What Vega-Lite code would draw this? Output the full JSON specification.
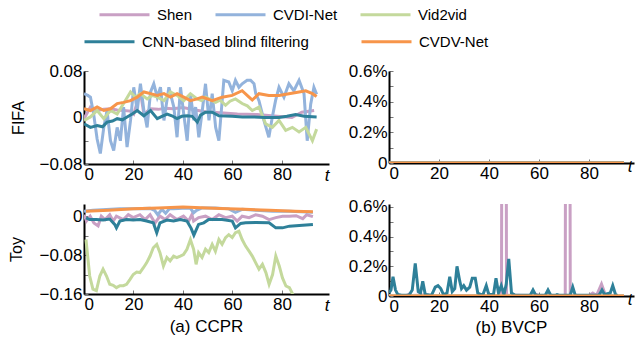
{
  "$schema": "https://vega.github.io/schema/vega-lite/v6.json",
  "padding": {"left": 8, "top": 7, "right": 1, "bottom": 2},
  "config": {
    "font": "Liberation Sans",
    "view": {"stroke": null},
    "axis": {
      "domainColor": "black", "domainWidth": 2, "labelFontSize": 17, "labelColor": "black",
      "tickColor": "#777", "tickSize": -4, "labelPadding": 6, "grid": false,
      "titleFontWeight": "normal", "titleColor": "black", "titleFontSize": 16
    },
    "legend": {
      "orient": "none", "direction": "horizontal",
      "symbolType": "M-5,0H5", "symbolSize": 100, "symbolStrokeWidth": 3, "labelLimit": 400,
      "labelOffset": 25, "labelFontSize": 15, "labelColor": "black", "title": null
    },
    "title": {"fontSize": 17, "fontWeight": "normal", "color": "black"}
  },
  "datasets": {
    "fifa_ccpr": [
      {"m":"Shen","t":0,"v":-0.002},{"m":"Shen","t":2.6,"v":0.018},{"m":"Shen","t":5.3,"v":0.012},{"m":"Shen","t":8,"v":0.014},{"m":"Shen","t":10.7,"v":0.015},{"m":"Shen","t":13.4,"v":0.013},{"m":"Shen","t":16,"v":0.012},{"m":"Shen","t":18.8,"v":0.011},{"m":"Shen","t":20.1,"v":0.006},{"m":"Shen","t":22.8,"v":0.044},{"m":"Shen","t":24.2,"v":0.006},{"m":"Shen","t":26.9,"v":0.015},{"m":"Shen","t":30,"v":0.014},{"m":"Shen","t":33,"v":0.016},{"m":"Shen","t":36,"v":0.015},{"m":"Shen","t":40,"v":0.017},{"m":"Shen","t":45,"v":0.013},{"m":"Shen","t":49,"v":0.01},{"m":"Shen","t":55,"v":0.008},{"m":"Shen","t":62,"v":0.006},{"m":"Shen","t":70,"v":0.005},{"m":"Shen","t":78,"v":0.002},{"m":"Shen","t":84,"v":0.0},{"m":"Shen","t":88,"v":0.009},{"m":"Shen","t":93,"v":0.012},
      {"m":"CVDI-Net","t":0,"v":0.041},{"m":"CVDI-Net","t":1.5,"v":0.038},{"m":"CVDI-Net","t":2.6,"v":0.035},{"m":"CVDI-Net","t":3.9,"v":0.006},{"m":"CVDI-Net","t":5.3,"v":-0.037},{"m":"CVDI-Net","t":6.6,"v":-0.062},{"m":"CVDI-Net","t":8,"v":-0.017},{"m":"CVDI-Net","t":9.3,"v":0.012},{"m":"CVDI-Net","t":10.7,"v":-0.04},{"m":"CVDI-Net","t":12,"v":-0.057},{"m":"CVDI-Net","t":13.4,"v":-0.017},{"m":"CVDI-Net","t":14.7,"v":-0.04},{"m":"CVDI-Net","t":16,"v":0.018},{"m":"CVDI-Net","t":17.4,"v":-0.051},{"m":"CVDI-Net","t":18.8,"v":-0.005},{"m":"CVDI-Net","t":20.1,"v":0.052},{"m":"CVDI-Net","t":21.5,"v":0.012},{"m":"CVDI-Net","t":22.8,"v":0.058},{"m":"CVDI-Net","t":24.2,"v":0.012},{"m":"CVDI-Net","t":25.5,"v":-0.017},{"m":"CVDI-Net","t":26.9,"v":0.044},{"m":"CVDI-Net","t":28.2,"v":0.058},{"m":"CVDI-Net","t":29.6,"v":0.035},{"m":"CVDI-Net","t":30.9,"v":0.052},{"m":"CVDI-Net","t":32.3,"v":-0.005},{"m":"CVDI-Net","t":34.3,"v":0.052},{"m":"CVDI-Net","t":36.3,"v":0.018},{"m":"CVDI-Net","t":37.6,"v":-0.034},{"m":"CVDI-Net","t":39,"v":0.052},{"m":"CVDI-Net","t":40.3,"v":0.006},{"m":"CVDI-Net","t":41.7,"v":-0.04},{"m":"CVDI-Net","t":43,"v":0.041},{"m":"CVDI-Net","t":44.4,"v":-0.005},{"m":"CVDI-Net","t":45.1,"v":0.018},{"m":"CVDI-Net","t":46.4,"v":-0.034},{"m":"CVDI-Net","t":47.8,"v":0.012},{"m":"CVDI-Net","t":49.1,"v":0.058},{"m":"CVDI-Net","t":50.5,"v":-0.005},{"m":"CVDI-Net","t":51.8,"v":0.041},{"m":"CVDI-Net","t":53.2,"v":-0.017},{"m":"CVDI-Net","t":54.5,"v":-0.04},{"m":"CVDI-Net","t":56.5,"v":0.064},{"m":"CVDI-Net","t":58.5,"v":0.061},{"m":"CVDI-Net","t":59.9,"v":0.046},{"m":"CVDI-Net","t":61.2,"v":0.064},{"m":"CVDI-Net","t":62.6,"v":0.052},{"m":"CVDI-Net","t":63.9,"v":0.058},{"m":"CVDI-Net","t":65.9,"v":0.064},{"m":"CVDI-Net","t":67.3,"v":0.064},{"m":"CVDI-Net","t":68.7,"v":0.058},{"m":"CVDI-Net","t":69.4,"v":0.041},{"m":"CVDI-Net","t":70.7,"v":0.029},{"m":"CVDI-Net","t":72.7,"v":-0.005},{"m":"CVDI-Net","t":74.7,"v":-0.034},{"m":"CVDI-Net","t":76.1,"v":0.001},{"m":"CVDI-Net","t":77.4,"v":0.029},{"m":"CVDI-Net","t":78.8,"v":0.052},{"m":"CVDI-Net","t":80.8,"v":0.035},{"m":"CVDI-Net","t":82.8,"v":0.058},{"m":"CVDI-Net","t":84.8,"v":0.046},{"m":"CVDI-Net","t":86.9,"v":0.064},{"m":"CVDI-Net","t":88.9,"v":0.041},{"m":"CVDI-Net","t":90.2,"v":-0.04},{"m":"CVDI-Net","t":91.6,"v":0.023},{"m":"CVDI-Net","t":92.9,"v":0.052},{"m":"CVDI-Net","t":94,"v":0.04},
      {"m":"Vid2vid","t":0,"v":-0.005},{"m":"Vid2vid","t":2.6,"v":0.001},{"m":"Vid2vid","t":5.3,"v":0.012},{"m":"Vid2vid","t":8,"v":-0.002},{"m":"Vid2vid","t":10.7,"v":0.012},{"m":"Vid2vid","t":13.4,"v":0.006},{"m":"Vid2vid","t":16,"v":0.024},{"m":"Vid2vid","t":18.8,"v":0.044},{"m":"Vid2vid","t":20.8,"v":0.035},{"m":"Vid2vid","t":22.8,"v":0.041},{"m":"Vid2vid","t":25.5,"v":0.032},{"m":"Vid2vid","t":27.5,"v":0.038},{"m":"Vid2vid","t":29.6,"v":0.035},{"m":"Vid2vid","t":32.3,"v":0.029},{"m":"Vid2vid","t":34.9,"v":0.044},{"m":"Vid2vid","t":37.6,"v":0.038},{"m":"Vid2vid","t":40.3,"v":0.029},{"m":"Vid2vid","t":43,"v":0.041},{"m":"Vid2vid","t":45.7,"v":0.032},{"m":"Vid2vid","t":47.5,"v":0.029},{"m":"Vid2vid","t":49.1,"v":0.035},{"m":"Vid2vid","t":51.8,"v":0.029},{"m":"Vid2vid","t":53.2,"v":0.026},{"m":"Vid2vid","t":55,"v":0.03},{"m":"Vid2vid","t":57.2,"v":0.021},{"m":"Vid2vid","t":59,"v":0.028},{"m":"Vid2vid","t":61.2,"v":0.032},{"m":"Vid2vid","t":63.9,"v":0.024},{"m":"Vid2vid","t":66,"v":0.02},{"m":"Vid2vid","t":68,"v":0.012},{"m":"Vid2vid","t":70.7,"v":0.018},{"m":"Vid2vid","t":73.4,"v":-0.011},{"m":"Vid2vid","t":76.1,"v":-0.017},{"m":"Vid2vid","t":78.8,"v":-0.005},{"m":"Vid2vid","t":81.5,"v":-0.022},{"m":"Vid2vid","t":84.2,"v":-0.017},{"m":"Vid2vid","t":86.9,"v":-0.025},{"m":"Vid2vid","t":89.6,"v":-0.017},{"m":"Vid2vid","t":92.3,"v":-0.04},{"m":"Vid2vid","t":94,"v":-0.02},
      {"m":"CNN-based blind filtering","t":0,"v":-0.011},{"m":"CNN-based blind filtering","t":2.6,"v":-0.017},{"m":"CNN-based blind filtering","t":5.3,"v":-0.014},{"m":"CNN-based blind filtering","t":7.5,"v":-0.016},{"m":"CNN-based blind filtering","t":9.3,"v":-0.008},{"m":"CNN-based blind filtering","t":11.5,"v":-0.006},{"m":"CNN-based blind filtering","t":13.4,"v":-0.002},{"m":"CNN-based blind filtering","t":15.5,"v":-0.004},{"m":"CNN-based blind filtering","t":17.4,"v":0.001},{"m":"CNN-based blind filtering","t":19.5,"v":0.006},{"m":"CNN-based blind filtering","t":21.5,"v":0.012},{"m":"CNN-based blind filtering","t":24.2,"v":0.003},{"m":"CNN-based blind filtering","t":26.9,"v":0.012},{"m":"CNN-based blind filtering","t":29.6,"v":-0.002},{"m":"CNN-based blind filtering","t":31.5,"v":0.002},{"m":"CNN-based blind filtering","t":33.6,"v":0.006},{"m":"CNN-based blind filtering","t":35.5,"v":0.003},{"m":"CNN-based blind filtering","t":37.6,"v":-0.002},{"m":"CNN-based blind filtering","t":39.5,"v":0.002},{"m":"CNN-based blind filtering","t":41.7,"v":0.003},{"m":"CNN-based blind filtering","t":43.7,"v":0.002},{"m":"CNN-based blind filtering","t":45.8,"v":-0.008},{"m":"CNN-based blind filtering","t":47.1,"v":0.004},{"m":"CNN-based blind filtering","t":49.1,"v":0.009},{"m":"CNN-based blind filtering","t":51.8,"v":0.009},{"m":"CNN-based blind filtering","t":54.5,"v":0.003},{"m":"CNN-based blind filtering","t":59.9,"v":0.002},{"m":"CNN-based blind filtering","t":64,"v":0.001},{"m":"CNN-based blind filtering","t":68,"v":0.001},{"m":"CNN-based blind filtering","t":73,"v":0.0},{"m":"CNN-based blind filtering","t":78.8,"v":0.0},{"m":"CNN-based blind filtering","t":82,"v":0.002},{"m":"CNN-based blind filtering","t":85.5,"v":0.005},{"m":"CNN-based blind filtering","t":89,"v":0.002},{"m":"CNN-based blind filtering","t":94,"v":0.001},
      {"m":"CVDV-Net","t":0,"v":0.015},{"m":"CVDV-Net","t":2.6,"v":0.012},{"m":"CVDV-Net","t":5.3,"v":0.018},{"m":"CVDV-Net","t":8,"v":0.012},{"m":"CVDV-Net","t":10.7,"v":0.015},{"m":"CVDV-Net","t":13.4,"v":0.024},{"m":"CVDV-Net","t":16,"v":0.026},{"m":"CVDV-Net","t":18.8,"v":0.029},{"m":"CVDV-Net","t":21.5,"v":0.035},{"m":"CVDV-Net","t":24.2,"v":0.044},{"m":"CVDV-Net","t":26.9,"v":0.041},{"m":"CVDV-Net","t":29.6,"v":0.038},{"m":"CVDV-Net","t":32.3,"v":0.041},{"m":"CVDV-Net","t":34.9,"v":0.035},{"m":"CVDV-Net","t":37.6,"v":0.041},{"m":"CVDV-Net","t":40.3,"v":0.035},{"m":"CVDV-Net","t":43,"v":0.029},{"m":"CVDV-Net","t":45.7,"v":0.032},{"m":"CVDV-Net","t":47.8,"v":0.035},{"m":"CVDV-Net","t":51.8,"v":0.029},{"m":"CVDV-Net","t":55.8,"v":0.035},{"m":"CVDV-Net","t":59.9,"v":0.038},{"m":"CVDV-Net","t":63.9,"v":0.046},{"m":"CVDV-Net","t":66.7,"v":0.035},{"m":"CVDV-Net","t":68,"v":0.03},{"m":"CVDV-Net","t":70.7,"v":0.041},{"m":"CVDV-Net","t":74.7,"v":0.038},{"m":"CVDV-Net","t":78.8,"v":0.038},{"m":"CVDV-Net","t":82.8,"v":0.041},{"m":"CVDV-Net","t":86.9,"v":0.044},{"m":"CVDV-Net","t":89.6,"v":0.046},{"m":"CVDV-Net","t":92.3,"v":0.041},{"m":"CVDV-Net","t":94,"v":0.036}
    ],
    "fifa_bvcp": [
      {"m":"Shen","t":0,"v":0},{"m":"Shen","t":47,"v":0},{"m":"Shen","t":94,"v":0},
      {"m":"CVDI-Net","t":0,"v":0},{"m":"CVDI-Net","t":47,"v":0},{"m":"CVDI-Net","t":94,"v":0},
      {"m":"Vid2vid","t":0,"v":0},{"m":"Vid2vid","t":47,"v":0},{"m":"Vid2vid","t":94,"v":0},
      {"m":"CNN-based blind filtering","t":0,"v":0},{"m":"CNN-based blind filtering","t":47,"v":0},{"m":"CNN-based blind filtering","t":94,"v":0},
      {"m":"CVDV-Net","t":0,"v":0},{"m":"CVDV-Net","t":47,"v":0},{"m":"CVDV-Net","t":94,"v":0}
    ],
    "toy_ccpr": [
      {"m":"Shen","t":0,"v":0.003},{"m":"Shen","t":1,"v":-0.01},{"m":"Shen","t":2.5,"v":0.0},{"m":"Shen","t":4,"v":-0.014},{"m":"Shen","t":5.7,"v":-0.02},{"m":"Shen","t":7,"v":0.0},{"m":"Shen","t":8.5,"v":-0.007},{"m":"Shen","t":10.4,"v":0.003},{"m":"Shen","t":11.8,"v":-0.01},{"m":"Shen","t":13.1,"v":0.0},{"m":"Shen","t":15.9,"v":-0.007},{"m":"Shen","t":17.9,"v":0.003},{"m":"Shen","t":19.9,"v":-0.003},{"m":"Shen","t":22.6,"v":0.003},{"m":"Shen","t":24.7,"v":-0.007},{"m":"Shen","t":26.7,"v":0.003},{"m":"Shen","t":28.7,"v":-0.014},{"m":"Shen","t":30.7,"v":0.0},{"m":"Shen","t":32.8,"v":-0.007},{"m":"Shen","t":34.8,"v":0.003},{"m":"Shen","t":37.5,"v":-0.007},{"m":"Shen","t":40.2,"v":0.0},{"m":"Shen","t":42.3,"v":-0.01},{"m":"Shen","t":43.6,"v":0.003},{"m":"Shen","t":44.3,"v":-0.01},{"m":"Shen","t":46.3,"v":-0.003},{"m":"Shen","t":49.1,"v":0.0},{"m":"Shen","t":51.8,"v":-0.007},{"m":"Shen","t":54.5,"v":0.003},{"m":"Shen","t":57.2,"v":-0.003},{"m":"Shen","t":59.9,"v":0.0},{"m":"Shen","t":61.9,"v":-0.01},{"m":"Shen","t":63.9,"v":0.0},{"m":"Shen","t":66.7,"v":-0.003},{"m":"Shen","t":69.4,"v":0.003},{"m":"Shen","t":72.1,"v":0.0},{"m":"Shen","t":74.8,"v":-0.007},{"m":"Shen","t":77.5,"v":-0.003},{"m":"Shen","t":80.2,"v":0.0},{"m":"Shen","t":83,"v":0.0},{"m":"Shen","t":85.7,"v":0.001},{"m":"Shen","t":88.4,"v":-0.005},{"m":"Shen","t":90,"v":0.003},{"m":"Shen","t":92.5,"v":-0.001},
      {"m":"CVDI-Net","t":0,"v":0.01},{"m":"CVDI-Net","t":3.6,"v":0.012},{"m":"CVDI-Net","t":9.1,"v":0.0137},{"m":"CVDI-Net","t":14.5,"v":0.015},{"m":"CVDI-Net","t":19.9,"v":0.015},{"m":"CVDI-Net","t":26.7,"v":0.016},{"m":"CVDI-Net","t":28.5,"v":0.012},{"m":"CVDI-Net","t":29.8,"v":0.003},{"m":"CVDI-Net","t":31.5,"v":0.014},{"m":"CVDI-Net","t":33,"v":0.006},{"m":"CVDI-Net","t":34.5,"v":0.015},{"m":"CVDI-Net","t":36.2,"v":0.015},{"m":"CVDI-Net","t":41.6,"v":0.017},{"m":"CVDI-Net","t":43,"v":0.016},{"m":"CVDI-Net","t":44.3,"v":0.007},{"m":"CVDI-Net","t":45.5,"v":0.012},{"m":"CVDI-Net","t":47.7,"v":0.017},{"m":"CVDI-Net","t":53.1,"v":0.017},{"m":"CVDI-Net","t":58.5,"v":0.015},{"m":"CVDI-Net","t":61.2,"v":0.008},{"m":"CVDI-Net","t":63.9,"v":0.014},{"m":"CVDI-Net","t":69.4,"v":0.012},{"m":"CVDI-Net","t":76.2,"v":0.01},{"m":"CVDI-Net","t":83,"v":0.01},{"m":"CVDI-Net","t":92.5,"v":0.008},
      {"m":"Vid2vid","t":0.8,"v":-0.048},{"m":"Vid2vid","t":2.3,"v":-0.123},{"m":"Vid2vid","t":3.6,"v":-0.15},{"m":"Vid2vid","t":5,"v":-0.153},{"m":"Vid2vid","t":6.4,"v":-0.123},{"m":"Vid2vid","t":7.7,"v":-0.109},{"m":"Vid2vid","t":9.1,"v":-0.123},{"m":"Vid2vid","t":10.4,"v":-0.14},{"m":"Vid2vid","t":11.8,"v":-0.142},{"m":"Vid2vid","t":13.1,"v":-0.147},{"m":"Vid2vid","t":14.5,"v":-0.143},{"m":"Vid2vid","t":15.9,"v":-0.143},{"m":"Vid2vid","t":17.2,"v":-0.14},{"m":"Vid2vid","t":18.6,"v":-0.13},{"m":"Vid2vid","t":19.9,"v":-0.12},{"m":"Vid2vid","t":21.3,"v":-0.115},{"m":"Vid2vid","t":22.6,"v":-0.116},{"m":"Vid2vid","t":24,"v":-0.106},{"m":"Vid2vid","t":25.3,"v":-0.096},{"m":"Vid2vid","t":26.7,"v":-0.082},{"m":"Vid2vid","t":28,"v":-0.065},{"m":"Vid2vid","t":29.4,"v":-0.058},{"m":"Vid2vid","t":30.7,"v":-0.075},{"m":"Vid2vid","t":32.1,"v":-0.1025},{"m":"Vid2vid","t":33.5,"v":-0.085},{"m":"Vid2vid","t":34.8,"v":-0.092},{"m":"Vid2vid","t":36.2,"v":-0.082},{"m":"Vid2vid","t":37.5,"v":-0.085},{"m":"Vid2vid","t":38.9,"v":-0.082},{"m":"Vid2vid","t":40.2,"v":-0.079},{"m":"Vid2vid","t":41.6,"v":-0.068},{"m":"Vid2vid","t":43,"v":-0.048},{"m":"Vid2vid","t":44.3,"v":-0.068},{"m":"Vid2vid","t":45.3,"v":-0.099},{"m":"Vid2vid","t":46.3,"v":-0.075},{"m":"Vid2vid","t":47.7,"v":-0.085},{"m":"Vid2vid","t":49.1,"v":-0.068},{"m":"Vid2vid","t":50.4,"v":-0.075},{"m":"Vid2vid","t":51.8,"v":-0.058},{"m":"Vid2vid","t":53.1,"v":-0.072},{"m":"Vid2vid","t":54.5,"v":-0.048},{"m":"Vid2vid","t":55.8,"v":-0.058},{"m":"Vid2vid","t":57.2,"v":-0.044},{"m":"Vid2vid","t":58.5,"v":-0.038},{"m":"Vid2vid","t":59.9,"v":-0.044},{"m":"Vid2vid","t":61.2,"v":-0.034},{"m":"Vid2vid","t":62.6,"v":-0.031},{"m":"Vid2vid","t":63.9,"v":-0.048},{"m":"Vid2vid","t":65.3,"v":-0.0615},{"m":"Vid2vid","t":66.7,"v":-0.072},{"m":"Vid2vid","t":68,"v":-0.082},{"m":"Vid2vid","t":69.4,"v":-0.096},{"m":"Vid2vid","t":70.7,"v":-0.109},{"m":"Vid2vid","t":72.1,"v":-0.099},{"m":"Vid2vid","t":73.5,"v":-0.116},{"m":"Vid2vid","t":74.8,"v":-0.14},{"m":"Vid2vid","t":76.2,"v":-0.12},{"m":"Vid2vid","t":77.5,"v":-0.082},{"m":"Vid2vid","t":78.9,"v":-0.1025},{"m":"Vid2vid","t":80.2,"v":-0.127},{"m":"Vid2vid","t":81.6,"v":-0.1435},{"m":"Vid2vid","t":83,"v":-0.147},{"m":"Vid2vid","t":84.3,"v":-0.16},{"m":"Vid2vid","t":85.7,"v":-0.17},
      {"m":"CNN-based blind filtering","t":0.8,"v":-0.0034},{"m":"CNN-based blind filtering","t":2.3,"v":-0.007},{"m":"CNN-based blind filtering","t":5,"v":-0.007},{"m":"CNN-based blind filtering","t":7.7,"v":-0.008},{"m":"CNN-based blind filtering","t":10.4,"v":-0.006},{"m":"CNN-based blind filtering","t":12.4,"v":-0.017},{"m":"CNN-based blind filtering","t":13.1,"v":-0.024},{"m":"CNN-based blind filtering","t":14.5,"v":-0.01},{"m":"CNN-based blind filtering","t":17.2,"v":-0.007},{"m":"CNN-based blind filtering","t":19.9,"v":-0.008},{"m":"CNN-based blind filtering","t":22.6,"v":-0.007},{"m":"CNN-based blind filtering","t":25.3,"v":-0.01},{"m":"CNN-based blind filtering","t":28,"v":-0.0137},{"m":"CNN-based blind filtering","t":29.4,"v":-0.034},{"m":"CNN-based blind filtering","t":30.7,"v":-0.0137},{"m":"CNN-based blind filtering","t":33.5,"v":-0.008},{"m":"CNN-based blind filtering","t":36.2,"v":-0.01},{"m":"CNN-based blind filtering","t":38.9,"v":-0.007},{"m":"CNN-based blind filtering","t":41.6,"v":-0.01},{"m":"CNN-based blind filtering","t":43.3,"v":-0.025},{"m":"CNN-based blind filtering","t":44.4,"v":-0.039},{"m":"CNN-based blind filtering","t":46.3,"v":-0.017},{"m":"CNN-based blind filtering","t":48.4,"v":-0.0137},{"m":"CNN-based blind filtering","t":50.4,"v":-0.007},{"m":"CNN-based blind filtering","t":55.8,"v":-0.007},{"m":"CNN-based blind filtering","t":59.9,"v":-0.01},{"m":"CNN-based blind filtering","t":61.2,"v":-0.024},{"m":"CNN-based blind filtering","t":63.3,"v":-0.015},{"m":"CNN-based blind filtering","t":65.3,"v":-0.0137},{"m":"CNN-based blind filtering","t":69.4,"v":-0.013},{"m":"CNN-based blind filtering","t":74.8,"v":-0.0137},{"m":"CNN-based blind filtering","t":77.5,"v":-0.024},{"m":"CNN-based blind filtering","t":80.2,"v":-0.024},{"m":"CNN-based blind filtering","t":83,"v":-0.0205},{"m":"CNN-based blind filtering","t":87,"v":-0.019},{"m":"CNN-based blind filtering","t":92.5,"v":-0.017},
      {"m":"CVDV-Net","t":0.8,"v":0.01},{"m":"CVDV-Net","t":10,"v":0.012},{"m":"CVDV-Net","t":20,"v":0.015},{"m":"CVDV-Net","t":30,"v":0.017},{"m":"CVDV-Net","t":40,"v":0.019},{"m":"CVDV-Net","t":45,"v":0.018},{"m":"CVDV-Net","t":55,"v":0.016},{"m":"CVDV-Net","t":65,"v":0.014},{"m":"CVDV-Net","t":75,"v":0.012},{"m":"CVDV-Net","t":85,"v":0.01},{"m":"CVDV-Net","t":92.5,"v":0.009}
    ],
    "toy_bvcp": [
      {"m":"Shen","t":0,"v":0.00003},{"m":"Shen","t":7,"v":0.00003},{"m":"Shen","t":8,"v":0.00012},{"m":"Shen","t":9,"v":0.00003},{"m":"Shen","t":15,"v":0.00008},{"m":"Shen","t":16,"v":0.00003},{"m":"Shen","t":45,"v":0.00005},{"m":"Shen","t":46,"v":0.1},{"m":"Shen","t":47,"v":0.00005},{"m":"Shen","t":58,"v":0.00003},{"m":"Shen","t":59,"v":0.0001},{"m":"Shen","t":60,"v":0.00003},{"m":"Shen","t":70.5,"v":0.00005},{"m":"Shen","t":71.5,"v":0.1},{"m":"Shen","t":72.5,"v":0.00005},{"m":"Shen","t":80,"v":0.00003},{"m":"Shen","t":81.5,"v":0.0002},{"m":"Shen","t":83,"v":0.00003},{"m":"Shen","t":85,"v":0.0008},{"m":"Shen","t":86.5,"v":0.0001},{"m":"Shen","t":88,"v":0.00003},{"m":"Shen","t":94,"v":0.00003},
      {"m":"CVDI-Net","t":0,"v":0},{"m":"CVDI-Net","t":47,"v":0},{"m":"CVDI-Net","t":94,"v":0},
      {"m":"Vid2vid","t":0,"v":0},{"m":"Vid2vid","t":47,"v":0},{"m":"Vid2vid","t":94,"v":0},
      {"m":"CNN-based blind filtering","t":0,"v":0.0002},{"m":"CNN-based blind filtering","t":0.8,"v":0.0004},{"m":"CNN-based blind filtering","t":1.6,"v":0.0013},{"m":"CNN-based blind filtering","t":2.6,"v":0.0004},{"m":"CNN-based blind filtering","t":3.5,"v":0.0001},{"m":"CNN-based blind filtering","t":5,"v":0.00005},{"m":"CNN-based blind filtering","t":8,"v":0.00005},{"m":"CNN-based blind filtering","t":9.3,"v":0.0004},{"m":"CNN-based blind filtering","t":10.5,"v":0.0022},{"m":"CNN-based blind filtering","t":11.7,"v":0.0003},{"m":"CNN-based blind filtering","t":12.6,"v":0.0002},{"m":"CNN-based blind filtering","t":13.5,"v":0.001},{"m":"CNN-based blind filtering","t":14.5,"v":0.0001},{"m":"CNN-based blind filtering","t":17,"v":0.00005},{"m":"CNN-based blind filtering","t":18.5,"v":0.0006},{"m":"CNN-based blind filtering","t":19.6,"v":0.0007},{"m":"CNN-based blind filtering","t":20.7,"v":0.0005},{"m":"CNN-based blind filtering","t":21.8,"v":0.0001},{"m":"CNN-based blind filtering","t":23.2,"v":0.0002},{"m":"CNN-based blind filtering","t":24.3,"v":0.0013},{"m":"CNN-based blind filtering","t":25.3,"v":0.0003},{"m":"CNN-based blind filtering","t":26.3,"v":0.0005},{"m":"CNN-based blind filtering","t":27.2,"v":0.002},{"m":"CNN-based blind filtering","t":28.3,"v":0.001},{"m":"CNN-based blind filtering","t":29,"v":0.0005},{"m":"CNN-based blind filtering","t":29.9,"v":0.0007},{"m":"CNN-based blind filtering","t":31,"v":0.0004},{"m":"CNN-based blind filtering","t":32.3,"v":0.0006},{"m":"CNN-based blind filtering","t":33.3,"v":0.0012},{"m":"CNN-based blind filtering","t":34.5,"v":0.0012},{"m":"CNN-based blind filtering","t":35.5,"v":0.0002},{"m":"CNN-based blind filtering","t":37.5,"v":0.00005},{"m":"CNN-based blind filtering","t":38.9,"v":0.0007},{"m":"CNN-based blind filtering","t":39.9,"v":0.0001},{"m":"CNN-based blind filtering","t":41.8,"v":0.0001},{"m":"CNN-based blind filtering","t":42.8,"v":0.0012},{"m":"CNN-based blind filtering","t":43.8,"v":0.0002},{"m":"CNN-based blind filtering","t":44.9,"v":0.0007},{"m":"CNN-based blind filtering","t":46,"v":0.0001},{"m":"CNN-based blind filtering","t":46.9,"v":0.0008},{"m":"CNN-based blind filtering","t":47.9,"v":0.0025},{"m":"CNN-based blind filtering","t":49,"v":0.0002},{"m":"CNN-based blind filtering","t":50.5,"v":0.00005},{"m":"CNN-based blind filtering","t":56.5,"v":0.00005},{"m":"CNN-based blind filtering","t":57.6,"v":0.0004},{"m":"CNN-based blind filtering","t":58.7,"v":0.00005},{"m":"CNN-based blind filtering","t":62.5,"v":0.00005},{"m":"CNN-based blind filtering","t":63.6,"v":0.0004},{"m":"CNN-based blind filtering","t":64.7,"v":0.00005},{"m":"CNN-based blind filtering","t":66.5,"v":0.00005},{"m":"CNN-based blind filtering","t":67.2,"v":0.0001},{"m":"CNN-based blind filtering","t":68,"v":0.00005},{"m":"CNN-based blind filtering","t":72.5,"v":0.00005},{"m":"CNN-based blind filtering","t":73.5,"v":0.0006},{"m":"CNN-based blind filtering","t":74.5,"v":0.00005},{"m":"CNN-based blind filtering","t":84,"v":0.00005},{"m":"CNN-based blind filtering","t":85.2,"v":0.0004},{"m":"CNN-based blind filtering","t":86.2,"v":0.0001},{"m":"CNN-based blind filtering","t":88.5,"v":0.0002},{"m":"CNN-based blind filtering","t":89.5,"v":0.0007},{"m":"CNN-based blind filtering","t":90.7,"v":0.00005},{"m":"CNN-based blind filtering","t":91.5,"v":0.00005},
      {"m":"CVDV-Net","t":0,"v":0},{"m":"CVDV-Net","t":47,"v":0},{"m":"CVDV-Net","t":94,"v":0}
    ]
  },
  "columns": 2,
  "spacing": {"row": 40, "column": 60},
  "bounds": "flush",
  "concat": [
    {
      "width": 245, "height": 93,
      "data": {"name": "fifa_ccpr"},
      "encoding": {
        "x": {"field": "t", "type": "quantitative", "scale": {"domain": [0, 99], "nice": false, "zero": false},
              "axis": {"values": [0, 20, 40, 60, 80], "title": "t", "titleFontStyle": "italic", "titleFontSize": 17, "titleX": 245, "titleY": 3, "titleAlign": "right", "titleBaseline": "top"}},
        "y": {"field": "v", "type": "quantitative", "scale": {"domain": [-0.08, 0.08], "nice": false},
              "axis": {"values": [-0.08, -0.04, 0, 0.04, 0.08], "labelExpr": "datum.value > 0.07 ? '0.08' : (abs(datum.value) < 0.01 ? '0' : (datum.value < -0.07 ? '\u22120.08' : ''))", "title": "FIFA", "titlePadding": 12}}
      },
      "layer": [
        {"transform": [{"filter": {"field": "m", "oneOf": ["Shen", "CVDI-Net", "Vid2vid"]}}],
         "mark": {"type": "line", "strokeWidth": 3, "clip": true},
         "encoding": {"color": {"field": "m", "type": "nominal", "sort": null,
           "scale": {"domain": ["Shen", "CVDI-Net", "Vid2vid"], "range": ["#c9a0c4", "#93b3dc", "#c4d99c"]},
           "legend": {"legendX": 33, "legendY": -64, "columnPadding": 16}}}},
        {"transform": [{"filter": {"field": "m", "oneOf": ["CNN-based blind filtering", "CVDV-Net"]}}],
         "mark": {"type": "line", "strokeWidth": 3, "clip": true},
         "encoding": {"stroke": {"field": "m", "type": "nominal", "sort": null,
           "scale": {"domain": ["CNN-based blind filtering", "CVDV-Net"], "range": ["#2e8099", "#f7954a"]},
           "legend": {"legendX": 18, "legendY": -37, "columnPadding": 46}}}}
      ]
    },
    {
      "width": 245, "height": 92,
      "data": {"name": "fifa_bvcp"},
      "encoding": {
        "x": {"field": "t", "type": "quantitative", "scale": {"domain": [0, 98], "nice": false, "zero": false},
              "axis": {"values": [0, 20, 40, 60, 80], "title": "t", "titleFontStyle": "italic", "titleFontSize": 17, "titleX": 243, "titleY": -5, "titleAlign": "right", "titleBaseline": "top"}},
        "y": {"field": "v", "type": "quantitative", "scale": {"domain": [0, 0.006], "nice": false},
              "axis": {"values": [0, 0.001, 0.002, 0.003, 0.004, 0.005, 0.006], "labelExpr": "datum.value < 0.0005 ? '0' : (abs(datum.value - 0.002) < 0.0001 ? '0.2%' : (abs(datum.value - 0.004) < 0.0001 ? '0.4%' : (abs(datum.value - 0.006) < 0.0001 ? '0.6%' : '')))", "title": null}}
      },
      "layer": [
        {"transform": [{"filter": {"field": "m", "oneOf": ["Shen", "CVDI-Net", "Vid2vid"]}}],
         "mark": {"type": "line", "strokeWidth": 3, "clip": true},
         "encoding": {"color": {"field": "m", "type": "nominal", "sort": null,
           "scale": {"domain": ["Shen", "CVDI-Net", "Vid2vid"], "range": ["#c9a0c4", "#93b3dc", "#c4d99c"]},
           "legend": {"legendX": 33, "legendY": -64, "columnPadding": 16}}}},
        {"transform": [{"filter": {"field": "m", "oneOf": ["CNN-based blind filtering", "CVDV-Net"]}}],
         "mark": {"type": "line", "strokeWidth": 3, "clip": true},
         "encoding": {"stroke": {"field": "m", "type": "nominal", "sort": null,
           "scale": {"domain": ["CNN-based blind filtering", "CVDV-Net"], "range": ["#2e8099", "#f7954a"]},
           "legend": {"legendX": 18, "legendY": -37, "columnPadding": 46}}}}
      ]
    },
    {
      "width": 245, "height": 90,
      "title": {"text": "(a) CCPR", "orient": "bottom", "anchor": "middle", "offset": 6},
      "data": {"name": "toy_ccpr"},
      "encoding": {
        "x": {"field": "t", "type": "quantitative", "scale": {"domain": [0, 99], "nice": false, "zero": false},
              "axis": {"values": [0, 20, 40, 60, 80], "title": "t", "titleFontStyle": "italic", "titleFontSize": 17, "titleX": 245, "titleY": 3, "titleAlign": "right", "titleBaseline": "top"}},
        "y": {"field": "v", "type": "quantitative", "scale": {"domain": [-0.16, 0.025], "nice": false, "zero": false},
              "axis": {"values": [-0.16, -0.12, -0.08, -0.04, 0], "labelExpr": "datum.value < -0.15 ? '\u22120.16' : (abs(datum.value + 0.08) < 0.01 ? '\u22120.08' : (abs(datum.value) < 0.01 ? '0' : ''))", "title": "Toy", "titlePadding": 14}}
      },
      "layer": [
        {"transform": [{"filter": {"field": "m", "oneOf": ["Shen", "CVDI-Net", "Vid2vid"]}}],
         "mark": {"type": "line", "strokeWidth": 3, "clip": true},
         "encoding": {"color": {"field": "m", "type": "nominal", "sort": null,
           "scale": {"domain": ["Shen", "CVDI-Net", "Vid2vid"], "range": ["#c9a0c4", "#93b3dc", "#c4d99c"]},
           "legend": {"legendX": 33, "legendY": -64, "columnPadding": 16}}}},
        {"transform": [{"filter": {"field": "m", "oneOf": ["CNN-based blind filtering", "CVDV-Net"]}}],
         "mark": {"type": "line", "strokeWidth": 3, "clip": true},
         "encoding": {"stroke": {"field": "m", "type": "nominal", "sort": null,
           "scale": {"domain": ["CNN-based blind filtering", "CVDV-Net"], "range": ["#2e8099", "#f7954a"]},
           "legend": {"legendX": 18, "legendY": -37, "columnPadding": 46}}}}
      ]
    },
    {
      "width": 245, "height": 92,
      "title": {"text": "(b) BVCP", "orient": "bottom", "anchor": "middle", "offset": 6},
      "data": {"name": "toy_bvcp"},
      "encoding": {
        "x": {"field": "t", "type": "quantitative", "scale": {"domain": [0, 98], "nice": false, "zero": false},
              "axis": {"values": [0, 20, 40, 60, 80], "title": "t", "titleFontStyle": "italic", "titleFontSize": 17, "titleX": 243, "titleY": -5, "titleAlign": "right", "titleBaseline": "top"}},
        "y": {"field": "v", "type": "quantitative", "scale": {"domain": [0, 0.0062], "nice": false},
              "axis": {"values": [0, 0.001, 0.002, 0.003, 0.004, 0.005, 0.006], "labelExpr": "datum.value < 0.0005 ? '0' : (abs(datum.value - 0.002) < 0.0001 ? '0.2%' : (abs(datum.value - 0.004) < 0.0001 ? '0.4%' : (abs(datum.value - 0.006) < 0.0001 ? '0.6%' : '')))", "title": null}}
      },
      "layer": [
        {"transform": [{"filter": {"field": "m", "oneOf": ["Shen", "CVDI-Net", "Vid2vid"]}}],
         "mark": {"type": "line", "strokeWidth": 3, "clip": true},
         "encoding": {"color": {"field": "m", "type": "nominal", "sort": null,
           "scale": {"domain": ["Shen", "CVDI-Net", "Vid2vid"], "range": ["#c9a0c4", "#93b3dc", "#c4d99c"]},
           "legend": {"legendX": 33, "legendY": -64, "columnPadding": 16}}}},
        {"transform": [{"filter": {"field": "m", "oneOf": ["CNN-based blind filtering", "CVDV-Net"]}}],
         "mark": {"type": "line", "strokeWidth": 3, "clip": true},
         "encoding": {"stroke": {"field": "m", "type": "nominal", "sort": null,
           "scale": {"domain": ["CNN-based blind filtering", "CVDV-Net"], "range": ["#2e8099", "#f7954a"]},
           "legend": {"legendX": 18, "legendY": -37, "columnPadding": 46}}}}
      ]
    }
  ]
}
